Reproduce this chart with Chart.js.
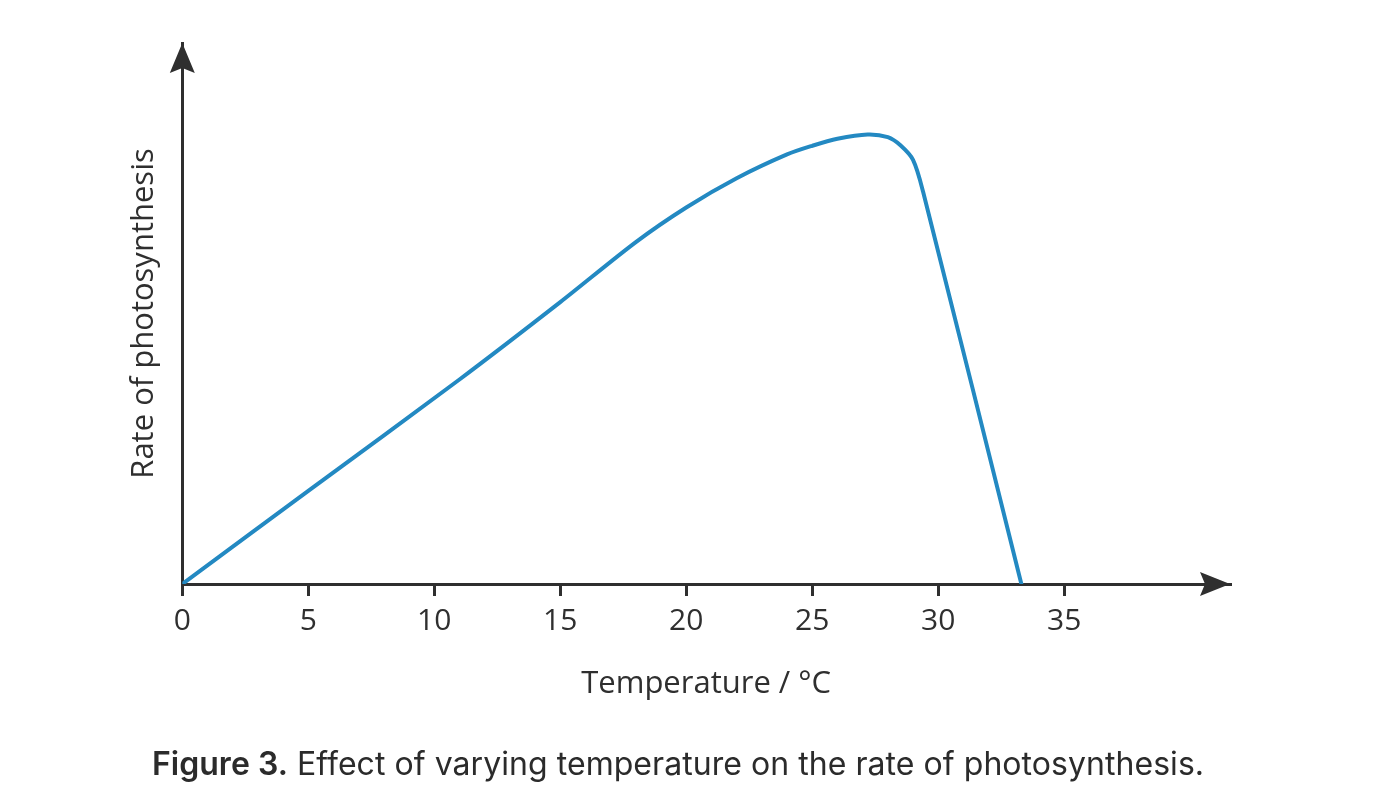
<!DOCTYPE html>
<html>
<head>
<meta charset="utf-8">
<script src="https://cdn.jsdelivr.net/npm/chart.js@4/dist/chart.umd.min.js"></script>
<style>
  html, body { margin: 0; padding: 0; background: #ffffff; }
  #wrap { position: relative; width: 1376px; height: 812px; }
  #c { position: absolute; left: 0; top: 0; }
  #caption {
    position: absolute; left: 0; width: 1356px; top: 744px;
    text-align: center; font-family: Inter, "Noto Sans", sans-serif;
    font-size: 32px; color: #2b2b2b; letter-spacing: 0.05px;
  }
  #caption b { font-weight: 600; }
</style>
</head>
<body>
<div id="wrap">
  <canvas id="c" width="1376" height="812"></canvas>
  <div id="caption"><b>Figure 3.</b> Effect of varying temperature on the rate of photosynthesis.</div>
</div>
<script>
// Data
const temperatures = [0, 5, 11, 15, 18, 20, 22, 24, 25, 26, 27.2, 28, 28.5, 29, 29.4, 33.3];
const rates        = [0, 17.2, 37.8, 52.1, 63.2, 69.6, 75.0, 79.4, 81.0, 82.3, 83.1, 82.6, 81.1, 78.4, 72.5, 0];
const tickValues   = [0, 5, 10, 15, 20, 25, 30, 35];
const tickLabels   = ['0', '5', '10', '15', '20', '25', '30', '35'];
const xTitle = 'Temperature / °C';
const yTitle = 'Rate of photosynthesis';

const AXIS = '#2f2f2f';
const LINE = '#2389c2';

const arrowPlugin = {
  id: 'arrows',
  afterDraw(chart) {
    const ctx = chart.ctx;
    const a = chart.chartArea;
    const x0 = chart.scales.x.getPixelForValue(0);
    const y0 = chart.scales.y.getPixelForValue(0);
    ctx.save();
    ctx.fillStyle = AXIS;
    ctx.beginPath();
    ctx.moveTo(x0, a.top);
    ctx.lineTo(x0 + 12.5, a.top + 30);
    ctx.lineTo(x0, a.top + 25);
    ctx.lineTo(x0 - 12.5, a.top + 30);
    ctx.closePath();
    ctx.fill();
    ctx.beginPath();
    ctx.moveTo(a.right, y0);
    ctx.lineTo(a.right - 30, y0 - 12);
    ctx.lineTo(a.right - 25, y0);
    ctx.lineTo(a.right - 30, y0 + 12);
    ctx.closePath();
    ctx.fill();
    ctx.restore();
  }
};

new Chart(document.getElementById('c'), {
  type: 'line',
  data: {
    datasets: [{
      data: temperatures.map((t, i) => ({ x: t, y: rates[i] })),
      borderColor: LINE,
      borderWidth: 4,
      pointRadius: 0,
      fill: false,
      tension: 0.3,
      borderCapStyle: 'round',
      borderJoinStyle: 'round'
    }]
  },
  plugins: [arrowPlugin],
  options: {
    responsive: false,
    animation: false,
    events: [],
    layout: { padding: { left: 0, top: 43, right: 146, bottom: 0 } },
    plugins: { legend: { display: false }, tooltip: { enabled: false } },
    scales: {
      x: {
        type: 'linear',
        min: 0,
        max: 41.58,
        afterFit(scale) { scale.height = 228; },
        afterBuildTicks(scale) { scale.ticks = tickValues.map(v => ({ value: v })); },
        grid: {
          display: true,
          drawOnChartArea: false,
          drawTicks: true,
          tickLength: 12,
          tickWidth: 3,
          tickColor: AXIS,
          lineWidth: 3,
          color: AXIS
        },
        border: { display: true, color: AXIS, width: 3 },
        ticks: {
          color: AXIS,
          padding: 10,
          maxRotation: 0,
          autoSkip: false,
          font: { family: '"Open Sans"', size: 30, lineHeight: 1 },
          callback(value) {
            const i = tickValues.indexOf(value);
            return i >= 0 ? tickLabels[i] : '';
          }
        },
        title: {
          display: true,
          text: xTitle,
          color: AXIS,
          font: { family: '"Open Sans"', size: 31, lineHeight: 1 },
          padding: { top: 0, bottom: 112 }
        }
      },
      y: {
        type: 'linear',
        min: 0,
        max: 100,
        afterFit(scale) { scale.width = 182.3; },
        grid: { display: false, drawTicks: false },
        border: { display: true, color: AXIS, width: 3 },
        ticks: { display: false },
        title: {
          display: true,
          text: yTitle,
          color: AXIS,
          font: { family: '"Open Sans"', size: 31, lineHeight: 1 },
          padding: { top: 129, bottom: 0 }
        }
      }
    }
  }
});
</script>
</body>
</html>
